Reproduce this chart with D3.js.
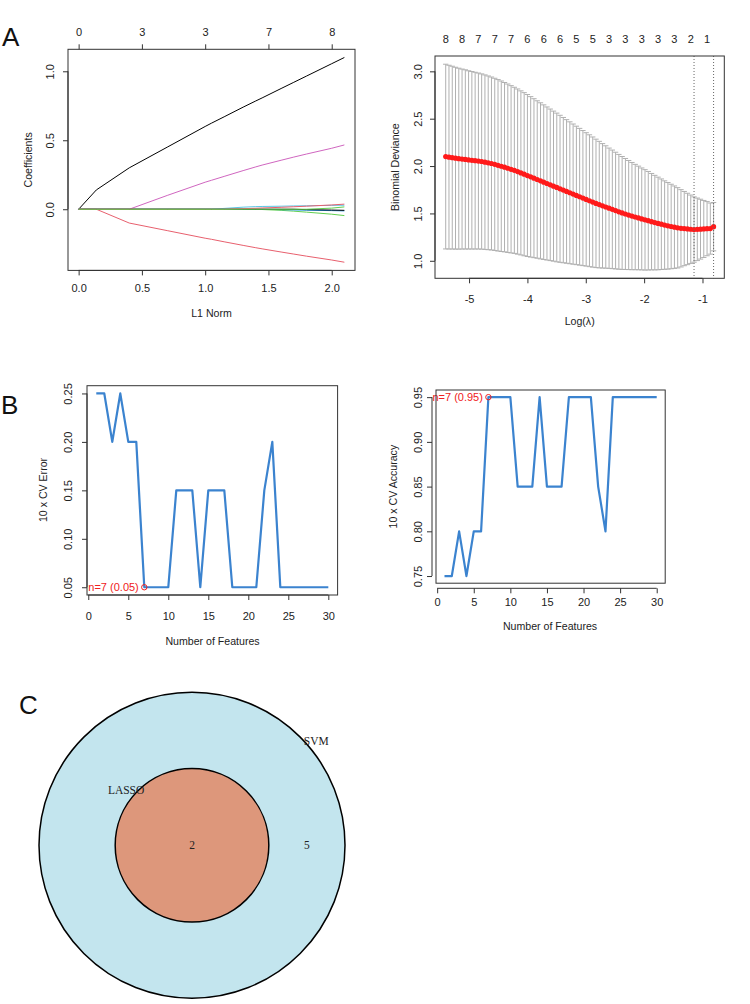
<!DOCTYPE html>
<html>
<head>
<meta charset="utf-8">
<script src="https://cdn.jsdelivr.net/npm/d3@7"></script>
<style>
  body { margin: 0; background: #fff; }
  text { font-family: "Liberation Sans", Arial, sans-serif; }
</style>
</head>
<body>
<div id="chart"></div>
<script>
// ---- A (left): lasso coefficient paths ----
const l1Norm = [0, 0.14, 0.40, 0.70, 1.00, 1.05, 1.15, 1.30, 1.40, 1.45, 1.60, 1.70, 1.80, 2.00, 2.10];
const coefPaths = [
  [0, 0.14, 0.30, 0.45, 0.60, 0.624, 0.67, 0.74, 0.785, 0.807, 0.875, 0.92, 0.965, 1.055, 1.10],
  [0, 0, -0.10, -0.155, -0.21, -0.218, -0.236, -0.262, -0.279, -0.287, -0.31, -0.325, -0.34, -0.368, -0.384],
  [0, 0, 0, 0, 0, 0, 0, 0, 0, -0.002, -0.008, -0.014, -0.021, -0.036, -0.046],
  [0, 0, 0, 0, 0, 0, 0, 0, 0, 0, -0.003, -0.005, -0.007, -0.010, -0.012],
  [0, 0, 0, 0, 0, 0, 0.006, 0.015, 0.019, 0.020, 0.022, 0.024, 0.025, 0.028, 0.029],
  [0, 0, 0, 0.10, 0.196, 0.21, 0.238, 0.28, 0.307, 0.32, 0.355, 0.378, 0.40, 0.442, 0.466],
  [0, 0, 0, 0, 0, 0, 0, 0, 0, 0, 0, 0, -0.003, -0.006, -0.008],
  [0, 0, 0, 0, 0, 0, 0, 0.004, 0.007, 0.009, 0.014, 0.018, 0.022, 0.031, 0.037],
  [0, 0, 0, 0, 0, 0, 0, 0, 0, 0, 0, 0, 0, 0.008, 0.017]
];
const pathColors = ["#000000", "#E8606E", "#61D04F", "#2297E6", "#5cc8e6", "#D066C0"];
const l1Ticks = [0, 0.5, 1.0, 1.5, 2.0];
const l1TopLabels = ["0", "3", "3", "7", "8"];

// ---- A (right): cross-validated deviance ----
const logLambda = [
  -5.400, -5.344, -5.288, -5.232, -5.176, -5.120, -5.064, -5.008, -4.952, -4.896,
  -4.840, -4.784, -4.728, -4.672, -4.616, -4.560, -4.504, -4.448, -4.392, -4.336,
  -4.280, -4.224, -4.168, -4.112, -4.056, -4.000, -3.944, -3.888, -3.832, -3.776,
  -3.721, -3.665, -3.609, -3.553, -3.497, -3.441, -3.385, -3.329, -3.273, -3.217,
  -3.161, -3.105, -3.049, -2.993, -2.937, -2.881, -2.825, -2.769, -2.713, -2.657,
  -2.601, -2.545, -2.489, -2.433, -2.377, -2.321, -2.265, -2.209, -2.153, -2.097,
  -2.041, -1.985, -1.929, -1.873, -1.817, -1.761, -1.705, -1.649, -1.593, -1.537,
  -1.481, -1.425, -1.369, -1.313, -1.257, -1.201, -1.145, -1.089, -1.034, -0.978,
  -0.922, -0.866, -0.810
];
const cvMean = [
  2.100, 2.094, 2.089, 2.083, 2.078, 2.074, 2.070, 2.065, 2.061, 2.057,
  2.053, 2.048, 2.041, 2.034, 2.027, 2.018, 2.008, 1.998, 1.988, 1.977,
  1.966, 1.955, 1.942, 1.928, 1.914, 1.900, 1.886, 1.872, 1.858, 1.844,
  1.830, 1.816, 1.802, 1.788, 1.774, 1.760, 1.746, 1.732, 1.718, 1.704,
  1.690, 1.676, 1.662, 1.648, 1.634, 1.620, 1.606, 1.593, 1.580, 1.568,
  1.555, 1.543, 1.530, 1.517, 1.505, 1.494, 1.483, 1.472, 1.462, 1.452,
  1.442, 1.432, 1.423, 1.413, 1.403, 1.394, 1.386, 1.377, 1.369, 1.362,
  1.355, 1.348, 1.343, 1.340, 1.336, 1.333, 1.330, 1.332, 1.334, 1.336,
  1.339, 1.340, 1.360
];
const cvSe = [
  0.975, 0.970, 0.965, 0.960, 0.955, 0.950, 0.946, 0.941, 0.937, 0.933,
  0.929, 0.925, 0.921, 0.917, 0.913, 0.909, 0.905, 0.900, 0.894, 0.889,
  0.883, 0.877, 0.872, 0.866, 0.861, 0.855, 0.847, 0.839, 0.831, 0.824,
  0.816, 0.808, 0.800, 0.792, 0.785, 0.776, 0.767, 0.758, 0.749, 0.740,
  0.731, 0.722, 0.713, 0.704, 0.696, 0.687, 0.678, 0.668, 0.657, 0.646,
  0.635, 0.626, 0.616, 0.606, 0.596, 0.586, 0.576, 0.566, 0.556, 0.547,
  0.538, 0.530, 0.520, 0.509, 0.499, 0.489, 0.478, 0.467, 0.457, 0.446,
  0.435, 0.424, 0.408, 0.392, 0.377, 0.361, 0.345, 0.330, 0.316, 0.301,
  0.286, 0.270, 0.255
];
const nzeroIdx = [0, 5, 10, 15, 20, 25, 30, 35, 40, 45, 50, 55, 60, 65, 70, 75, 80];
const nzeroLabels = ["8", "8", "7", "7", "7", "6", "6", "6", "5", "5", "3", "3", "3", "3", "3", "2", "1"];
const lambdaMinIdx = 76;
const lambda1seIdx = 82;

// ---- B: SVM-RFE ----
const nFeatures = [1, 2, 3, 4, 5, 6, 7, 8, 9, 10, 11, 12, 13, 14, 15, 16, 17, 18, 19, 20, 21, 22, 23, 24, 25, 26, 27, 28, 29, 30];
const cvError = [0.25, 0.25, 0.20, 0.25, 0.20, 0.20, 0.05, 0.05, 0.05, 0.05, 0.15, 0.15, 0.15, 0.05, 0.15,
                 0.15, 0.15, 0.05, 0.05, 0.05, 0.05, 0.15, 0.20, 0.05, 0.05, 0.05, 0.05, 0.05, 0.05, 0.05];
const cvAccuracy = [0.75, 0.75, 0.80, 0.75, 0.80, 0.80, 0.95, 0.95, 0.95, 0.95, 0.85, 0.85, 0.85, 0.95, 0.85,
                    0.85, 0.85, 0.95, 0.95, 0.95, 0.95, 0.85, 0.80, 0.95, 0.95, 0.95, 0.95, 0.95, 0.95, 0.95];
const featTicks = [0, 5, 10, 15, 20, 25, 30];

// ---- C: Venn ----
const vennSets = ["SVM", "LASSO"];
const vennSizes = [7, 2];
const vennOnlySvm = 5;
const vennBoth = 2;

const svg = d3.select("#chart").append("svg")
  .attr("width", 750)
  .attr("height", 1004);

const FONT = 11;
const INK = "#222";
const AXIS = "#333";

// R style 4% padding
function padDomain(ext) {
  const d = (ext[1] - ext[0]) * 0.04;
  return [ext[0] - d, ext[1] + d];
}

function styleAxis(ax) {
  ax.attr("font-size", FONT);
  ax.selectAll("line, path").attr("stroke", AXIS);
  ax.selectAll("text").attr("fill", INK);
}

function drawBox(g, x, y) {
  g.append("rect")
    .attr("x", x.range()[0])
    .attr("y", y.range()[1])
    .attr("width", x.range()[1] - x.range()[0])
    .attr("height", y.range()[0] - y.range()[1])
    .attr("fill", "none")
    .attr("stroke", AXIS);
}

function bottomAxis(g, x, at, values, fmt, gap) {
  const ax = g.append("g")
    .attr("transform", `translate(0,${at})`)
    .call(d3.axisBottom(x).tickValues(values).tickFormat(fmt).tickSize(5).tickSizeOuter(0));
  ax.select(".domain").attr("d", `M${x(values[0])},0H${x(values[values.length - 1])}`);
  ax.selectAll("text").attr("y", gap).attr("dy", "0.35em");
  styleAxis(ax);
  return ax;
}

function leftAxis(g, y, at, values, fmt, gap) {
  const ax = g.append("g")
    .attr("transform", `translate(${at},0)`)
    .call(d3.axisLeft(y).tickValues(values).tickFormat(fmt).tickSize(5).tickSizeOuter(0));
  ax.select(".domain").attr("d", `M0,${y(values[0])}V${y(values[values.length - 1])}`);
  ax.selectAll("text")
    .attr("x", 0).attr("y", 0).attr("dy", "0.35em")
    .attr("text-anchor", "middle")
    .attr("transform", `translate(${-gap},0) rotate(-90)`);
  styleAxis(ax);
  return ax;
}

function title(g, txt, x, y, rotate) {
  g.append("text")
    .attr("transform", `translate(${x},${y})` + (rotate ? " rotate(-90)" : ""))
    .attr("text-anchor", "middle")
    .attr("dy", "0.35em")
    .attr("font-size", 10.6)
    .attr("fill", INK)
    .text(txt);
}

function panelLetter(txt, x, y) {
  svg.append("text")
    .attr("x", x).attr("y", y)
    .attr("font-size", 26)
    .attr("fill", "#111")
    .text(txt);
}

// ---------- A left ----------
{
  const g = svg.append("g");
  const x = d3.scaleLinear().domain(padDomain(d3.extent(l1Norm))).range([68, 355]);
  const allCoefs = coefPaths.flat();
  const y = d3.scaleLinear().domain(padDomain(d3.extent(allCoefs))).range([270.4, 49.3]);

  const line = d3.line().x((d, i) => x(l1Norm[i])).y(d => y(d));
  g.selectAll(".coef")
    .data(coefPaths)
    .enter().append("path")
    .attr("class", "coef")
    .attr("d", line)
    .attr("fill", "none")
    .attr("stroke", (d, i) => pathColors[i % pathColors.length])
    .attr("stroke-width", 1);

  drawBox(g, x, y);
  bottomAxis(g, x, y.range()[0], l1Ticks, d3.format(".1f"), 18);
  leftAxis(g, y, x.range()[0], [0, 0.5, 1.0], d3.format(".1f"), 17.5);

  // degrees of freedom along the top
  const top = g.append("g")
    .attr("transform", `translate(0,${y.range()[1]})`)
    .call(d3.axisTop(x).tickValues(l1Ticks).tickFormat((d, i) => l1TopLabels[i]).tickSize(5).tickSizeOuter(0));
  top.select(".domain").remove();
  top.selectAll("text").attr("y", -17).attr("dy", "0.35em");
  styleAxis(top);

  title(g, "L1 Norm", (x.range()[0] + x.range()[1]) / 2, 313, false);
  title(g, "Coefficients", 28, (y.range()[0] + y.range()[1]) / 2, true);
}

// ---------- A right ----------
{
  const g = svg.append("g");
  const cvUp = cvMean.map((m, i) => m + cvSe[i]);
  const cvLo = cvMean.map((m, i) => m - cvSe[i]);
  const x = d3.scaleLinear().domain(padDomain(d3.extent(logLambda))).range([435, 724.3]);
  const y = d3.scaleLinear().domain(padDomain([d3.min(cvLo), d3.max(cvUp)])).range([278.3, 56]);
  const ext = d3.extent(logLambda);
  const barw = (ext[1] - ext[0]) * 0.01;

  const bars = g.append("g").attr("stroke", "#b0b0b0").attr("stroke-width", 1);
  logLambda.forEach((l, i) => {
    bars.append("line").attr("x1", x(l)).attr("x2", x(l)).attr("y1", y(cvUp[i])).attr("y2", y(cvLo[i]));
    bars.append("line").attr("x1", x(l - barw)).attr("x2", x(l + barw)).attr("y1", y(cvUp[i])).attr("y2", y(cvUp[i]));
    bars.append("line").attr("x1", x(l - barw)).attr("x2", x(l + barw)).attr("y1", y(cvLo[i])).attr("y2", y(cvLo[i]));
  });

  g.selectAll(".cvpt")
    .data(cvMean)
    .enter().append("circle")
    .attr("class", "cvpt")
    .attr("cx", (d, i) => x(logLambda[i]))
    .attr("cy", d => y(d))
    .attr("r", 2.6)
    .attr("fill", "#ff1a1a");

  [lambdaMinIdx, lambda1seIdx].forEach(idx => {
    g.append("line")
      .attr("x1", x(logLambda[idx])).attr("x2", x(logLambda[idx]))
      .attr("y1", y.range()[1]).attr("y2", y.range()[0])
      .attr("stroke", "#666")
      .attr("stroke-dasharray", "1,2");
  });

  drawBox(g, x, y);
  bottomAxis(g, x, y.range()[0], [-5, -4, -3, -2, -1], d => String(d), 21);
  leftAxis(g, y, x.range()[0], [1.0, 1.5, 2.0, 2.5, 3.0], d3.format(".1f"), 16.7);

  g.selectAll(".nz")
    .data(nzeroIdx)
    .enter().append("text")
    .attr("class", "nz")
    .attr("x", d => x(logLambda[d]))
    .attr("y", 39)
    .attr("dy", "0.35em")
    .attr("text-anchor", "middle")
    .attr("font-size", FONT)
    .attr("fill", INK)
    .text((d, i) => nzeroLabels[i]);

  title(g, "Log(\u03BB)", (x.range()[0] + x.range()[1]) / 2, 321, false);
  title(g, "Binomial Deviance", 395, (y.range()[0] + y.range()[1]) / 2, true);
}

// ---------- B panels ----------
function featurePanel(opt) {
  const g = svg.append("g");
  const x = d3.scaleLinear().domain(padDomain(d3.extent(nFeatures))).range(opt.xRange);
  const y = d3.scaleLinear().domain(padDomain(d3.extent(opt.values))).range(opt.yRange);

  g.append("path")
    .datum(opt.values)
    .attr("d", d3.line().x((d, i) => x(nFeatures[i])).y(d => y(d)))
    .attr("fill", "none")
    .attr("stroke", "#3b83cf")
    .attr("stroke-width", 2.2)
    .attr("stroke-linejoin", "round");

  const best = opt.best;
  const bx = x(nFeatures[best]);
  const by = y(opt.values[best]);
  g.append("circle")
    .attr("cx", bx).attr("cy", by).attr("r", 2.7)
    .attr("fill", "none").attr("stroke", "#f02020").attr("stroke-width", 1);
  g.append("text")
    .attr("x", bx - 5.5).attr("y", by).attr("dy", "0.35em")
    .attr("text-anchor", "end")
    .attr("font-size", FONT)
    .attr("fill", "#f02020")
    .text(`n=${nFeatures[best]} (${d3.format(".2f")(opt.values[best])})`);

  drawBox(g, x, y);
  bottomAxis(g, x, opt.xAxisAt, featTicks, d => String(d), opt.xGap);
  leftAxis(g, y, opt.yAxisAt, opt.yTicks, d3.format(".2f"), opt.yGap);
  title(g, "Number of Features", opt.xTitle[0], opt.xTitle[1], false);
  title(g, opt.yLabel, opt.yTitle[0], opt.yTitle[1], true);
}

featurePanel({
  values: cvError,
  best: d3.minIndex(cvError),
  xRange: [87, 337.6], yRange: [595, 385.7],
  xAxisAt: 595, yAxisAt: 87, xGap: 20.7, yGap: 18.7,
  yTicks: [0.05, 0.10, 0.15, 0.20, 0.25],
  yLabel: "10 x CV Error",
  xTitle: [212.5, 641.5], yTitle: [43.3, 490]
});

featurePanel({
  values: cvAccuracy,
  best: d3.maxIndex(cvAccuracy),
  xRange: [436, 665.2], yRange: [583.2, 390],
  xAxisAt: 588.3, yAxisAt: 432, xGap: 14, yGap: 13.7,
  yTicks: [0.75, 0.80, 0.85, 0.90, 0.95],
  yLabel: "10 x CV Accuracy",
  xTitle: [550, 626.5], yTitle: [393, 486.6]
});

// ---------- C: Venn ----------
{
  const g = svg.append("g");
  const cx = 192, cy = 845.3;
  const r = d3.scalePow().exponent(0.55).domain([0, d3.max(vennSizes)]).range([0, 153]);
  const fills = ["#c3e5ee", "#dd977b"];

  g.selectAll(".set")
    .data(vennSizes)
    .enter().append("circle")
    .attr("class", "set")
    .attr("cx", cx).attr("cy", cy)
    .attr("r", d => r(d))
    .attr("fill", (d, i) => fills[i])
    .attr("stroke", "#000")
    .attr("stroke-width", 1.5);

  const rOut = r(vennSizes[0]), rIn = r(vennSizes[1]);
  const serif = "'Liberation Serif', 'Times New Roman', serif";
  const labelPos = [
    [cx + rOut * 1.06 * Math.cos(-40 * Math.PI / 180), cy + rOut * 1.06 * Math.sin(-40 * Math.PI / 180)],
    [cx + rIn * 1.12 * Math.cos(-140 * Math.PI / 180), cy + rIn * 1.12 * Math.sin(-140 * Math.PI / 180)]
  ];
  g.selectAll(".setlab")
    .data(vennSets)
    .enter().append("text")
    .attr("class", "setlab")
    .attr("x", (d, i) => labelPos[i][0])
    .attr("y", (d, i) => labelPos[i][1])
    .attr("dy", "0.35em")
    .attr("text-anchor", "middle")
    .style("font-family", serif)
    .attr("font-size", 11.5)
    .attr("fill", INK)
    .text(d => d);

  const counts = [[vennBoth, cx], [vennOnlySvm, cx + (rIn + rOut) / 2]];
  g.selectAll(".cnt")
    .data(counts)
    .enter().append("text")
    .attr("class", "cnt")
    .attr("x", d => d[1])
    .attr("y", cy)
    .attr("dy", "0.35em")
    .attr("text-anchor", "middle")
    .style("font-family", serif)
    .attr("font-size", 11.5)
    .attr("fill", INK)
    .text(d => d[0]);
}

panelLetter("A", 2, 46);
panelLetter("B", 1, 414);
panelLetter("C", 19, 714);
</script>
</body>
</html>
